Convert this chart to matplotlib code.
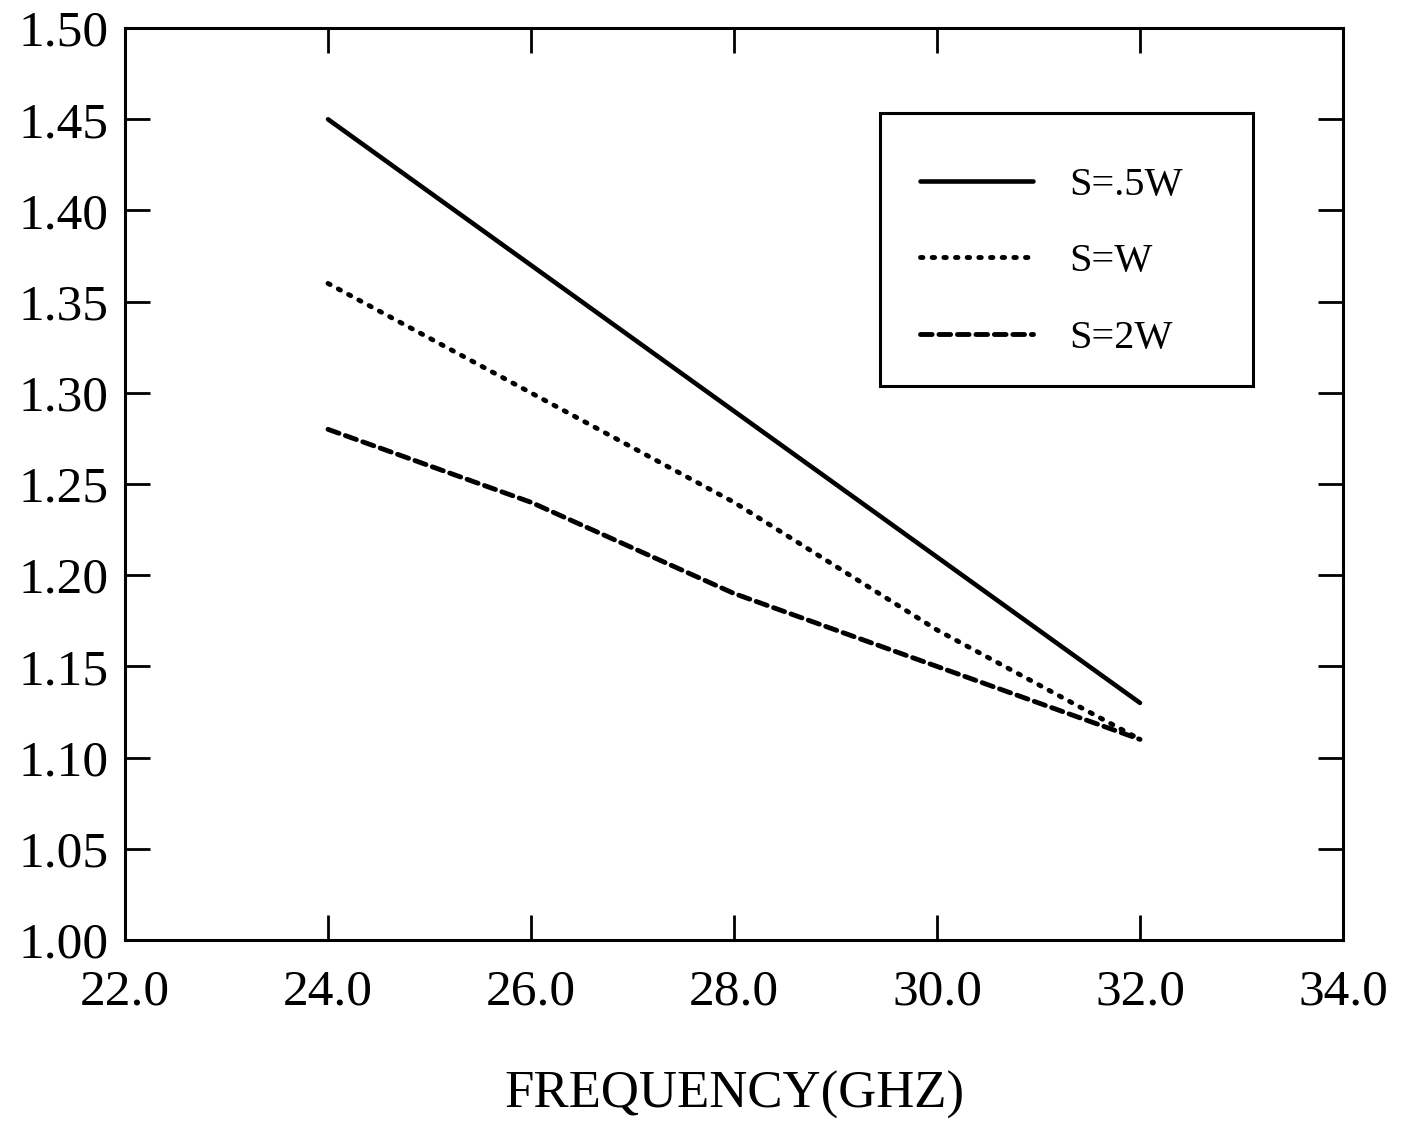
import matplotlib
matplotlib.use("Agg")
import matplotlib.pyplot as plt
from matplotlib.patches import Rectangle

plt.rcParams['font.family'] = ['Liberation Serif', 'DejaVu Serif']

freq = [24.0, 26.0, 28.0, 30.0, 32.0]
s_half_w = [1.45, 1.37, 1.29, 1.21, 1.13]
s_w = [1.36, 1.30, 1.24, 1.17, 1.11]
s_2w = [1.28, 1.24, 1.19, 1.15, 1.11]
labels = ["S=.5W", "S=W", "S=2W"]

xticks = [22.0, 24.0, 26.0, 28.0, 30.0, 32.0, 34.0]
yticks = [1.00, 1.05, 1.10, 1.15, 1.20, 1.25, 1.30, 1.35, 1.40, 1.45, 1.50]

fig = plt.figure(figsize=(14.11, 11.24), dpi=100)
ax = fig.add_axes([0.0886, 0.1637, 0.8632, 0.8113])

ax.plot(freq, s_half_w, color="black", lw=3.3, solid_capstyle="round", label=labels[0])
ax.plot(freq, s_w, color="black", lw=3.5, dashes=(0.5, 1.9), dash_capstyle="round", label=labels[1])
ax.plot(freq, s_2w, color="black", lw=3.5, dashes=(2.4, 1.4), dash_capstyle="round", label=labels[2])

ax.set_xlim(22, 34)
ax.set_ylim(1.0, 1.5)
ax.set_xticks(xticks)
ax.set_yticks(yticks)
ax.set_xticklabels(["%.1f" % v for v in xticks])
ax.set_yticklabels(["%.2f" % v for v in yticks])
ax.tick_params(direction="in", length=18, width=2, top=True, right=True,
               labelsize=37, pad=12)
ax.tick_params(axis="x", pad=21)
for s in ax.spines.values():
    s.set_linewidth(2.2)

ax.set_xlabel("FREQUENCY(GHZ)", fontsize=38, labelpad=40)

# legend frame drawn separately so the entries can sit a little low in the box
box = Rectangle((0.62, 0.6075), 0.306, 0.2995, transform=ax.transAxes,
                facecolor="white", edgecolor="black", lw=2.2, zorder=4)
ax.add_patch(box)
leg = ax.legend(loc="upper left", bbox_to_anchor=(0.62, 0.8925), fontsize=29,
                frameon=False, handlelength=2.8, handletextpad=0.9,
                labelspacing=0.98, borderpad=1.0, borderaxespad=0)
leg.set_zorder(5)

fig.savefig("out.png", dpi=100)
